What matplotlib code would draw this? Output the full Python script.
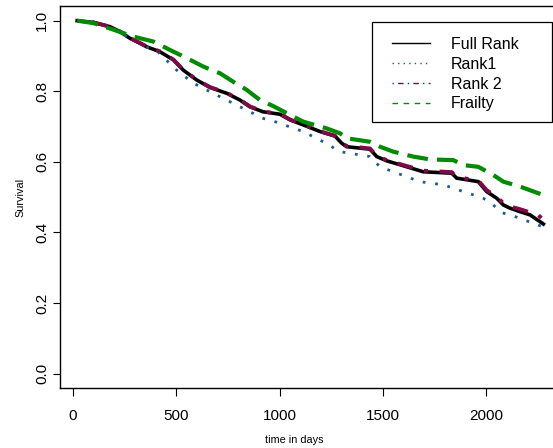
import matplotlib
matplotlib.use("Agg")
import matplotlib.pyplot as plt
from matplotlib.lines import Line2D
from matplotlib.patches import Rectangle

plt.rcParams['font.family'] = ['Liberation Sans', 'DejaVu Sans']

days_full = [20, 100, 179, 228, 276, 324, 357, 421, 486, 534, 599, 663, 746, 809, 857,
             920, 1002, 1051, 1114, 1196, 1269, 1301, 1325, 1438, 1471, 1519, 1600, 1696,
             1834, 1858, 1963, 2003, 2052, 2084, 2116, 2165, 2213, 2278]
surv_full = [1.0, 0.995, 0.983, 0.969, 0.950, 0.936, 0.926, 0.912, 0.889, 0.860, 0.832,
             0.811, 0.794, 0.775, 0.756, 0.742, 0.735, 0.719, 0.705, 0.686, 0.673, 0.653,
             0.643, 0.636, 0.615, 0.603, 0.589, 0.572, 0.568, 0.554, 0.544, 0.516, 0.497,
             0.478, 0.469, 0.459, 0.450, 0.424]

days_rank1 = [20, 100, 179, 276, 357, 405, 502, 583, 680, 809, 922, 954, 1114, 1212, 1293,
              1438, 1487, 1680, 1793, 1890, 1987, 2035, 2076, 2132, 2229, 2281]
surv_rank1 = [1.0, 0.995, 0.982, 0.950, 0.925, 0.915, 0.860, 0.823, 0.794, 0.756, 0.723,
              0.719, 0.686, 0.657, 0.629, 0.615, 0.586, 0.544, 0.535, 0.516, 0.497, 0.478,
              0.456, 0.447, 0.426, 0.415]

days_rank2 = [20, 100, 179, 228, 276, 324, 357, 421, 486, 534, 599, 663, 746, 809, 857,
              920, 1002, 1051, 1114, 1196, 1269, 1301, 1325, 1438, 1471, 1519, 1600, 1696,
              1834, 1858, 1963, 2003, 2052, 2084, 2116, 2165, 2213, 2245, 2270]
surv_rank2 = [1.0, 0.995, 0.983, 0.969, 0.951, 0.937, 0.927, 0.913, 0.890, 0.861, 0.833,
              0.812, 0.795, 0.776, 0.757, 0.743, 0.736, 0.720, 0.706, 0.687, 0.674, 0.655,
              0.645, 0.638, 0.617, 0.605, 0.591, 0.575, 0.571, 0.557, 0.547, 0.520, 0.501,
              0.483, 0.474, 0.466, 0.457, 0.454, 0.440]

days_frailty = [20, 100, 179, 292, 389, 470, 551, 631, 712, 776, 841, 906, 970, 1051, 1115,
                1228, 1293, 1325, 1438, 1487, 1551, 1648, 1729, 1842, 1890, 1963, 2035,
                2084, 2165, 2278]
surv_frailty = [1.0, 0.993, 0.978, 0.955, 0.941, 0.917, 0.894, 0.870, 0.851, 0.827, 0.804,
                0.775, 0.758, 0.733, 0.714, 0.695, 0.681, 0.667, 0.657, 0.643, 0.629,
                0.615, 0.607, 0.605, 0.591, 0.586, 0.563, 0.544, 0.530, 0.506]

labels = ["Full Rank", "Rank1", "Rank 2", "Frailty"]
xticks = [0, 500, 1000, 1500, 2000]
yticks = [0.0, 0.2, 0.4, 0.6, 0.8, 1.0]

c_full = "black"
c_r1 = "#1a5a96"
c_r2 = "#800a48"
c_fr = "#008b00"

W, H = 553, 448
fig = plt.figure(figsize=(W / 100, H / 100), dpi=100)
ax = fig.add_axes([60 / W, (H - 388) / H, (556 - 60) / W, 382 / H])

ax.plot(days_full, surv_full, color=c_full, lw=2.6, solid_joinstyle='miter')
ax.plot(days_rank1, surv_rank1, color=c_r1, lw=2.0, ls=(0, (1, 3.5)), dash_capstyle='butt')
ax.plot(days_rank2, surv_rank2, color=c_r2, lw=2.8, ls=(0, (1, 3, 4, 3)), dash_capstyle='butt')
ax.plot(days_frailty, surv_frailty, color=c_fr, lw=3.0, ls=(0, (5, 2.2)), dash_capstyle='butt')

ax.set_xlim(-63, 2339)
ax.set_ylim(-0.0405, 1.0416)
ax.set_xticks(xticks)
ax.set_xticklabels([str(t) for t in xticks], fontsize=11)
ax.set_yticks(yticks)
ax.set_yticklabels(["%.1f" % t for t in yticks], fontsize=11, rotation=90, va='center')
ax.tick_params(axis='x', length=5.5, width=0.8, pad=9.5)
ax.tick_params(axis='y', length=5.2, width=0.8, pad=2.5)
ax.spines['right'].set_visible(False)
for s in ['left', 'top', 'bottom']:
    ax.spines[s].set_linewidth(1.0)

ax.set_xlabel("time in days", fontsize=7.8)
ax.xaxis.set_label_coords((294 - 60) / 496, -(440 - 388) / 382, transform=ax.transAxes)
ax.xaxis.label.set_va('center')
ax.set_ylabel("Survival", fontsize=7.8)
ax.yaxis.set_label_coords(-(60 - 20) / 496, 0.5, transform=ax.transAxes)
ax.yaxis.label.set_va('center')

# legend box drawn like R's
fig.patches.append(Rectangle((372 / W, 1 - 122.3 / H), (552 - 372) / W, (122.3 - 21.7) / H,
                             transform=fig.transFigure, fill=False, lw=0.9,
                             edgecolor='black', zorder=5))
handles = [
    Line2D([], [], color=c_full, lw=1.0),
    Line2D([], [], color=c_r1, lw=1.0, ls=(0, (1, 3))),
    Line2D([], [], color=c_r2, lw=1.0, ls=(0, (1, 3, 4, 3))),
    Line2D([], [], color=c_fr, lw=1.0, ls=(0, (4, 4))),
]
fig.legend(handles, labels, loc='upper left', bbox_to_anchor=(392 / W, 1 - 37 / H),
           frameon=False, fontsize=11.5, borderpad=0, borderaxespad=0,
           handlelength=38 / 16, handletextpad=1.3, labelspacing=0.3)

fig.savefig("out.png", dpi=100)
